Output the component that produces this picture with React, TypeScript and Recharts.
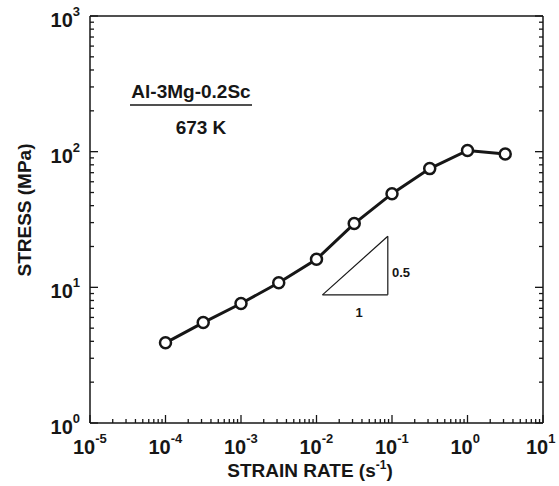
import { LineChart, Line, XAxis, YAxis, ReferenceLine, Customized } from 'recharts'

const strainRate = [1e-4, 3.16e-4, 1e-3, 3.16e-3, 1e-2, 3.16e-2, 1e-1, 3.16e-1, 1, 3.16]
const stress = [3.9, 5.5, 7.6, 10.8, 16.1, 29.5, 49, 75, 102, 96]

const xDecades = [-5, -4, -3, -2, -1, 0, 1]
const yDecades = [0, 1, 2, 3]

// slope triangle (slope 0.5 on log-log)
const triX = [0.012, 0.088]
const triY = [8.8, 23.8]

const data = strainRate.map((r, i) => ({ rate: r, stress: stress[i] }))

const withMinors = (decs: number[]) => {
  const out: number[] = []
  decs.forEach((d, i) => {
    out.push(Math.pow(10, d))
    if (i < decs.length - 1) for (let m = 2; m <= 9; m++) out.push(m * Math.pow(10, d))
  })
  return out
}
const xTicks = withMinors(xDecades)
const yTicks = withMinors(yDecades)

const INK = '#161616'
const FONT = 'Liberation Sans, Arial, Helvetica, sans-serif'

const isMajor = (v: number) => {
  const lg = Math.log10(v)
  return Math.abs(lg - Math.round(lg)) < 1e-6
}

const XTick = ({ x, y, payload, side }: any) => {
  const v = payload.value
  const major = isMajor(v)
  const len = major ? 8 : 4
  const top = side === 'top'
  return (
    <g>
      <line x1={x} x2={x} y1={y} y2={top ? y + len : y - len} stroke={INK} strokeWidth={1.3} />
      {major && !top && (
        <text x={x - 17} y={y + 31} fontFamily={FONT} fontWeight="bold" fontSize={20} fill={INK}>
          10
          <tspan dy={-11} fontSize={13}>{Math.round(Math.log10(v))}</tspan>
        </text>
      )}
    </g>
  )
}

const YTick = ({ x, y, payload, side }: any) => {
  const v = payload.value
  const major = isMajor(v)
  const len = major ? 8 : 4
  const right = side === 'right'
  return (
    <g>
      <line x1={x} x2={right ? x - len : x + len} y1={y} y2={y} stroke={INK} strokeWidth={1.3} />
      {major && !right && (
        <text x={x - 10} y={y + 11} textAnchor="end" fontFamily={FONT} fontWeight="bold" fontSize={20} fill={INK}>
          10
          <tspan dy={-11} fontSize={13}>{Math.round(Math.log10(v))}</tspan>
        </text>
      )}
    </g>
  )
}

const Annotations = () => (
  <g fontFamily={FONT} fontWeight="bold" fill={INK}>
    <text x={191} y={98} textAnchor="middle" fontSize={19}>Al-3Mg-0.2Sc</text>
    <line x1={130} x2={252} y1={105} y2={105} stroke={INK} strokeWidth={1.5} />
    <text x={201} y={134} textAnchor="middle" fontSize={19}>673 K</text>
    <text x={392} y={277} fontSize={13}>0.5</text>
    <text x={359} y={317} textAnchor="middle" fontSize={13}>1</text>
    <text x={310} y={477} textAnchor="middle" fontSize={19}>
      STRAIN RATE (s
      <tspan dy={-8} fontSize={12}>-1</tspan>
      <tspan dy={8}>)</tspan>
    </text>
    <text x={31} y={210} textAnchor="middle" fontSize={19} transform="rotate(-90 31 210)">STRESS (MPa)</text>
  </g>
)

export default function App() {
  return (
    <div style={{ position: 'absolute', left: 0, top: 0, background: '#fff' }}>
      <LineChart width={559} height={486} data={data} margin={{ top: 15, right: 15, left: 10, bottom: 13 }}>
        <XAxis
          dataKey="rate"
          type="number"
          scale="log"
          domain={[1e-5, 10]}
          allowDataOverflow
          ticks={xTicks}
          interval={0}
          tickSize={0}
          tickMargin={0}
          height={50}
          stroke={INK}
          strokeWidth={1.5}
          tick={<XTick side="bottom" />}
        />
        <XAxis
          xAxisId="top"
          orientation="top"
          type="number"
          scale="log"
          domain={[1e-5, 10]}
          allowDataOverflow
          ticks={xTicks}
          interval={0}
          tickSize={0}
          tickMargin={0}
          height={1}
          stroke={INK}
          strokeWidth={1.5}
          tick={<XTick side="top" />}
        />
        <YAxis
          type="number"
          scale="log"
          domain={[1, 1000]}
          allowDataOverflow
          ticks={yTicks}
          interval={0}
          tickSize={0}
          tickMargin={0}
          width={80}
          stroke={INK}
          strokeWidth={1.5}
          tick={<YTick side="left" />}
        />
        <YAxis
          yAxisId="right"
          orientation="right"
          type="number"
          scale="log"
          domain={[1, 1000]}
          allowDataOverflow
          ticks={yTicks}
          interval={0}
          tickSize={0}
          tickMargin={0}
          width={1}
          stroke={INK}
          strokeWidth={1.5}
          tick={<YTick side="right" />}
        />
        <ReferenceLine segment={[{ x: triX[0], y: triY[0] }, { x: triX[1], y: triY[0] }]} stroke={INK} strokeWidth={1.2} />
        <ReferenceLine segment={[{ x: triX[1], y: triY[0] }, { x: triX[1], y: triY[1] }]} stroke={INK} strokeWidth={1.2} />
        <ReferenceLine segment={[{ x: triX[0], y: triY[0] }, { x: triX[1], y: triY[1] }]} stroke={INK} strokeWidth={1.2} />
        <Line
          dataKey="stress"
          stroke={INK}
          strokeWidth={3}
          dot={{ r: 5.5, fill: '#fff', stroke: INK, strokeWidth: 2.5 }}
          isAnimationActive={false}
        />
        <Customized component={<Annotations />} />
      </LineChart>
    </div>
  )
}
